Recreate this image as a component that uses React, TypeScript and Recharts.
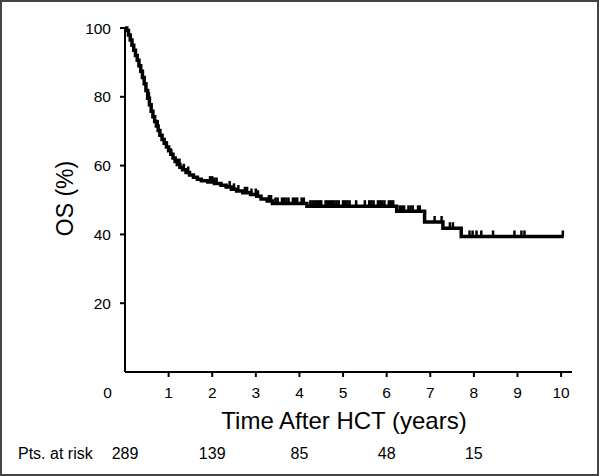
import React from 'react';
import { ComposedChart, Line, Scatter, XAxis, YAxis, Label } from 'recharts';

// Kaplan-Meier overall survival: step times (years) and survival (%)
const stepTimes = [0, 0.04, 0.08, 0.12, 0.16, 0.2, 0.24, 0.28, 0.32, 0.36, 0.4, 0.44, 0.48, 0.52, 0.56, 0.6, 0.64, 0.68, 0.72, 0.76, 0.8, 0.85, 0.9, 0.95, 1.0, 1.05, 1.1, 1.15, 1.2, 1.26, 1.32, 1.4, 1.48, 1.57, 1.66, 1.75, 1.9, 2.05, 2.2, 2.32, 2.44, 2.56, 2.7, 2.88, 3.02, 3.12, 3.26, 3.38, 4.17, 6.23, 6.87, 7.29, 7.71, 10.06];
const survival = [100, 99.3, 98, 96.5, 95, 93.5, 92, 90.6, 89, 87.4, 85.6, 83.8, 81.8, 79.6, 77.7, 75.8, 74.2, 72.8, 71.5, 70.2, 68.8, 67.6, 66.5, 65.4, 64.3, 63.3, 62.2, 61.2, 60.3, 59.5, 58.8, 58, 57.3, 56.6, 56, 55.6, 55.2, 54.8, 54.3, 53.8, 53.1, 52.6, 52.1, 51.6, 51.1, 50.3, 49.7, 49.0, 48.2, 46.7, 43.6, 41.8, 39.4, 39.4];

// censored observation times (years)
const censorTimes = [0.55, 0.75, 0.95, 1.05, 1.2, 1.25, 1.35, 1.45, 1.95, 2.0, 2.05, 2.1, 2.4, 2.5, 2.6, 2.75, 2.8, 2.9, 3.0, 3.05, 3.3, 3.35, 3.45, 3.5, 3.6, 3.65, 3.7, 3.75, 3.85, 3.9, 3.95, 4.05, 4.1, 4.25, 4.3, 4.35, 4.4, 4.45, 4.5, 4.6, 4.65, 4.7, 4.75, 4.8, 4.85, 4.9, 5.0, 5.05, 5.1, 5.15, 5.3, 5.5, 5.6, 5.65, 5.7, 5.8, 5.85, 5.9, 5.95, 6.05, 6.1, 6.15, 6.3, 6.35, 6.4, 6.5, 6.55, 6.6, 6.72, 6.76, 7.1, 7.26, 7.45, 7.52, 7.9, 7.97, 8.06, 8.17, 8.44, 8.93, 9.09, 9.16, 10.04];

const xTicks = [0, 1, 2, 3, 4, 5, 6, 7, 8, 9, 10];
const yTicks = [20, 40, 60, 80, 100];
const riskTimes = [0, 2, 4, 6, 8];
const riskCounts = [289, 139, 85, 48, 15];

const curve = stepTimes.map((t, i) => ({ t, s: survival[i] }));
const survAt = (t: number) => {
  let v = survival[0];
  for (let i = 0; i < stepTimes.length; i++) {
    if (stepTimes[i] <= t) v = survival[i];
  }
  return v;
};
const censors = censorTimes.map((t) => ({ t, s: survAt(t) }));

const FONT = '"Liberation Sans", Arial, Helvetica, sans-serif';

const XTick = (props: any) => {
  const { x, y, payload } = props;
  const v = payload.value;
  if (v === 0) {
    return (
      <text x={x - 17.5} y={y + 25.5} textAnchor="middle" fontSize={15.5} fill="#000" fontFamily={FONT}>0</text>
    );
  }
  return (
    <g>
      <line x1={x} x2={x} y1={y} y2={y + 5} stroke="#000" strokeWidth={2} />
      <text x={x} y={y + 25.5} textAnchor="middle" fontSize={15.5} fill="#000" fontFamily={FONT}>{v}</text>
    </g>
  );
};

const RiskTick = (props: any) => {
  const { x, y, payload } = props;
  const idx = riskTimes.indexOf(payload.value);
  return (
    <text x={x} y={y + 27.3} textAnchor="middle" fontSize={16} fill="#000" fontFamily={FONT}>
      {idx >= 0 ? riskCounts[idx] : ''}
    </text>
  );
};

const CensorMark = (props: any) => {
  const { cx, cy } = props;
  return <line x1={cx} x2={cx} y1={cy} y2={cy - 6} stroke="#000" strokeWidth={2.5} />;
};

export default function App() {
  return (
    <div style={{ position: 'absolute', left: 0, top: 0, width: 600, height: 476, background: '#fff' }}>
      <div style={{ position: 'absolute', left: 0, top: 0, width: 599, height: 476, boxSizing: 'border-box', border: '2px solid #444' }} />
      <div style={{ position: 'absolute', left: 0, top: 0 }}>
        <ComposedChart width={600} height={476} margin={{ top: 28, right: 28, bottom: 0, left: 0 }}>
          <XAxis
            xAxisId={0}
            dataKey="t"
            type="number"
            domain={[0, 10.25]}
            ticks={xTicks}
            interval={0}
            allowDataOverflow
            height={60}
            tickSize={0}
            tickMargin={0}
            tickLine={false}
            tick={<XTick />}
            axisLine={{ stroke: '#000', strokeWidth: 2 }}
          >
            <Label
              content={() => (
                <text x={344} y={428.5} textAnchor="middle" fontSize={24} fill="#000" fontFamily={FONT}>
                  Time After HCT (years)
                </text>
              )}
            />
          </XAxis>
          <XAxis
            xAxisId={1}
            dataKey="t"
            type="number"
            domain={[0, 10.25]}
            ticks={riskTimes}
            interval={0}
            allowDataOverflow
            height={44}
            tickSize={0}
            tickMargin={0}
            tickLine={false}
            axisLine={false}
            tick={<RiskTick />}
          >
            <Label
              content={() => (
                <text x={18} y={459.3} textAnchor="start" fontSize={16} fill="#000" fontFamily={FONT}>
                  Pts. at risk
                </text>
              )}
            />
          </XAxis>
          <YAxis
            dataKey="s"
            type="number"
            domain={[0, 100]}
            ticks={yTicks}
            interval={0}
            width={125}
            tickSize={5}
            tickMargin={9}
            tick={{ fontSize: 15.5, fill: '#000', fontFamily: FONT }}
            tickLine={{ stroke: '#000', strokeWidth: 2 }}
            axisLine={{ stroke: '#000', strokeWidth: 2 }}
          >
            <Label
              content={() => (
                <text x={73} y={198.5} transform="rotate(-90, 73, 198.5)" textAnchor="middle" fontSize={23} fill="#000" fontFamily={FONT}>
                  OS (%)
                </text>
              )}
            />
          </YAxis>
          <Line
            xAxisId={0}
            data={curve}
            dataKey="s"
            type="stepAfter"
            stroke="#000"
            strokeWidth={3.5}
            dot={false}
            isAnimationActive={false}
          />
          <Scatter
            xAxisId={0}
            data={censors}
            dataKey="s"
            shape={<CensorMark />}
            isAnimationActive={false}
          />
          <Line
            xAxisId={1}
            data={[]}
            dataKey="s"
            stroke="none"
            dot={false}
            isAnimationActive={false}
          />
        </ComposedChart>
      </div>
    </div>
  );
}
